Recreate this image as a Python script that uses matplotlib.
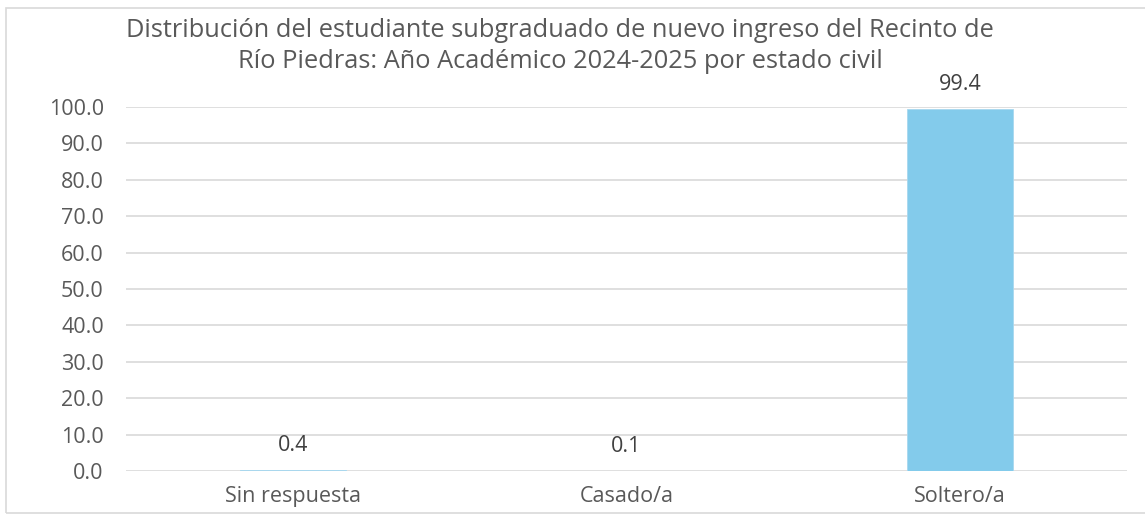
import matplotlib.pyplot as plt
from matplotlib.patches import Rectangle

categorias = ['Sin respuesta', 'Casado/a', 'Soltero/a']
porcentajes = [0.4, 0.1, 99.4]
yticks = [0, 10, 20, 30, 40, 50, 60, 70, 80, 90, 100]

plt.rcParams['font.family'] = ['Open Sans', 'DejaVu Sans']

fig = plt.figure(figsize=(11.45, 5.14), dpi=100)
ax = fig.add_axes([126 / 1145, 1 - 471 / 514, 1001 / 1145, 364 / 514])

x = range(len(categorias))
barras = ax.bar(x, porcentajes, width=0.318, color='#83CBEB',
                edgecolor='#a8d8ef', linewidth=0.6, zorder=3)
for xi, v in zip(x, porcentajes):
    ax.annotate(f'{v:.1f}', (xi, v), xytext=(0, 10), textcoords='offset points',
                ha='center', va='bottom', fontsize=15.5, color='#404040',
                annotation_clip=False)

ax.set_xlim(-0.5, 2.5)
ax.set_ylim(0, 100)
ax.set_yticks(yticks)
ax.set_yticklabels([f'{t:.1f}' for t in yticks])
ax.set_xticks(list(x))
ax.set_xticklabels(categorias)
ax.tick_params(axis='both', length=0, labelsize=15.5, labelcolor='#595959')
ax.tick_params(axis='y', pad=16)
ax.tick_params(axis='x', pad=11)
ax.grid(axis='y', color='#d9d9d9', linewidth=1.2, zorder=0)
for s in ax.spines.values():
    s.set_visible(False)

fig.text(560 / 1145, 1 - 46 / 514,
         'Distribución del estudiante subgraduado de nuevo ingreso del Recinto de\n'
         'Río Piedras: Año Académico 2024-2025 por estado civil',
         ha='center', va='center', fontsize=18.3, color='#595959', linespacing=1.33)

fig.patches.append(Rectangle((6 / 1145, 1 / 514), 1.0, 505 / 514, transform=fig.transFigure,
                             fill=False, edgecolor='#d9d9d9', linewidth=1.2))

fig.savefig('out.png', dpi=100)
